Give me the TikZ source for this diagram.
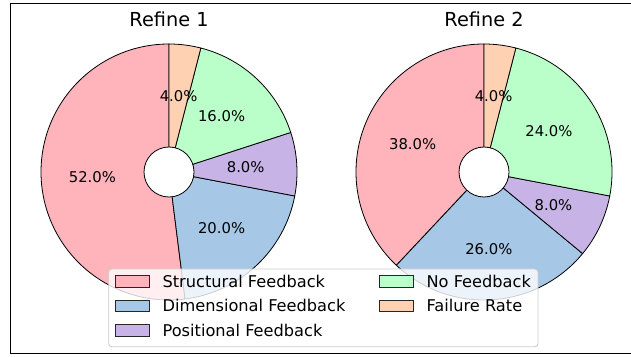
\documentclass[tikz,border=0pt]{standalone}
\usepackage{fontspec}
\setmainfont{DejaVu Sans}
\usetikzlibrary{calc}

\definecolor{structural}{HTML}{FFB3BA}
\definecolor{dimensional}{HTML}{A7C7E7}
\definecolor{positional}{HTML}{C7B3E6}
\definecolor{nofeedback}{HTML}{BAFFC9}
\definecolor{failure}{HTML}{FFD1B3}

\begin{document}
\begin{tikzpicture}[x=1pt,y=1pt,
    wedge/.style={draw=black,line width=.8pt,line join=round},
    pct/.style={font=\fontsize{14.8}{17}\selectfont,inner sep=0pt},
    ttl/.style={font=\fontsize{19.3}{23}\selectfont,anchor=base,inner sep=0pt},
    keybox/.style={draw=black!85,line width=.8pt,minimum width=34pt,minimum height=11.5pt,inner sep=0pt},
    keytext/.style={font=\fontsize{16.2}{19}\selectfont,anchor=west,inner sep=0pt}]
  \useasboundingbox (0,0) rectangle (631,356);
  \fill[white] (0,0) rectangle (631,356);
  \draw[line width=1.3pt] (640,2.3) -- (10.5,2.3) -- (10.5,352.3) -- (640,352.3);

  % Refine 1
  \coordinate (ca) at (169,184);
  \foreach \a/\b/\c in {90/277.2/structural,277.2/349.2/dimensional,349.2/378/positional,378/435.6/nofeedback,435.6/450/failure}
    \draw[wedge,fill=\c] (ca) -- ++(\a:128) arc[start angle=\a,end angle=\b,radius=128] -- cycle;
  \draw[wedge,fill=white] (ca) circle[radius=25];
  \foreach \m/\t [count=\i] in {183.6/52.0,313.2/20.0,363.6/8.0,406.8/16.0,442.8/4.0}
    \node[pct] (pa\i) at ($(ca)+(\m:76.8)$) {\t\%};
  \node[ttl] (ta) at (169,329.3) {Refine 1};

  % Refine 2
  \coordinate (cb) at (484,184);
  \foreach \a/\b/\c in {90/226.8/structural,226.8/320.4/dimensional,320.4/349.2/positional,349.2/435.6/nofeedback,435.6/450/failure}
    \draw[wedge,fill=\c] (cb) -- ++(\a:128) arc[start angle=\a,end angle=\b,radius=128] -- cycle;
  \draw[wedge,fill=white] (cb) circle[radius=25];
  \foreach \m/\t [count=\i] in {158.4/38.0,273.6/26.0,334.8/8.0,392.4/24.0,442.8/4.0}
    \node[pct] (pb\i) at ($(cb)+(\m:76.8)$) {\t\%};
  \node[ttl] (tb) at (484,329.3) {Refine 2};

  % legend
  \draw[rounded corners=3pt,line width=.9pt,draw=black!20,fill=white,fill opacity=.8]
    (108.7,9.3) rectangle (538,87);
  \foreach \c/\t/\x/\y [count=\i] in {structural/Structural Feedback/132/74.5,
      dimensional/Dimensional Feedback/132/50.2,
      positional/Positional Feedback/132/25.8,
      nofeedback/No Feedback/396/74.5,
      failure/Failure Rate/396/50.2}{
    \node[keybox,fill=\c] (k\i) at (\x,\y) {};
    \node[keytext] (l\i) at ($(k\i.east)+(13,0)$) {\t};
  }
\end{tikzpicture}
\end{document}
